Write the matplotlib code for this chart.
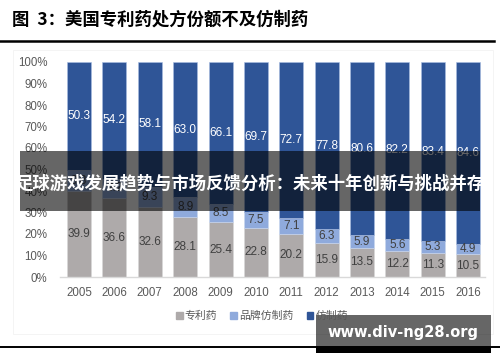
import matplotlib.pyplot as plt
import matplotlib.patches as mpatches
import numpy as np

plt.rcParams['font.family'] = ['Noto Sans CJK SC', 'DejaVu Sans']

# Data
years = ['2005', '2006', '2007', '2008', '2009', '2010',
         '2011', '2012', '2013', '2014', '2015', '2016']
patent = [39.9, 36.6, 32.6, 28.1, 25.4, 22.8, 20.2, 15.9, 13.5, 12.2, 11.3, 10.5]
brand_generic = [9.8, 9.2, 9.3, 8.9, 8.5, 7.5, 7.1, 6.3, 5.9, 5.6, 5.3, 4.9]
generic = [50.3, 54.2, 58.1, 63.0, 66.1, 69.7, 72.7, 77.8, 80.6, 82.2, 83.4, 84.6]
series_names = ['专利药', '品牌仿制药', '仿制药']
yticks = [0, 10, 20, 30, 40, 50, 60, 70, 80, 90, 100]

W, H = 500, 362
GREY = '#AEAAAA'
LIGHT = '#8FAADC'
DARK = '#2F5597'
TXT = '#595959'
NUM_FONT = ['Liberation Sans', 'DejaVu Sans']


def fx(x):
    return x / W


def fy(y):
    return 1 - y / H


fig = plt.figure(figsize=(W / 100, H / 100), dpi=100)

# plot area in pixel coords: x 60..485, y 62..277
ax = fig.add_axes([fx(60), fy(277), fx(485 - 60), (277 - 62) / H])

x = np.arange(len(years))
width = 0.68
ax.bar(x, patent, width, color=GREY, label=series_names[0],
       edgecolor='#d9d9d9', linewidth=0.4)
ax.bar(x, brand_generic, width, bottom=patent, color=LIGHT,
       label=series_names[1], edgecolor='#c9d6ee', linewidth=0.4)
bottom2 = [p + b for p, b in zip(patent, brand_generic)]
ax.bar(x, generic, width, bottom=bottom2, color=DARK,
       label=series_names[2], edgecolor='#a9bde3', linewidth=0.4)

# labels in the middle of each segment
for i in range(len(years)):
    ax.text(x[i], patent[i] / 2, f'{patent[i]:.1f}', ha='center', va='center',
            fontsize=8.5, color='#404040', family=NUM_FONT)
    ax.text(x[i], patent[i] + brand_generic[i] / 2, f'{brand_generic[i]:.1f}',
            ha='center', va='center', fontsize=8.5, color='#404040', family=NUM_FONT)
    ax.text(x[i], bottom2[i] + generic[i] / 2, f'{generic[i]:.1f}',
            ha='center', va='center', fontsize=8.5, color='white', family=NUM_FONT)

ax.set_xlim(-0.54, 11.48)
ax.set_ylim(0, 100)
ax.set_xticks(x)
ax.set_xticklabels(years, family=NUM_FONT)
ax.set_yticks(yticks)
ax.set_yticklabels([f'{v}%' for v in yticks], family=NUM_FONT)
ax.tick_params(axis='both', length=0, labelsize=8.3, labelcolor=TXT)
ax.tick_params(axis='y', pad=9)
ax.tick_params(axis='x', pad=7)
for s in ['top', 'right', 'left']:
    ax.spines[s].set_visible(False)
ax.spines['bottom'].set_color('#d9d9d9')
ax.spines['bottom'].set_linewidth(1.0)

handles = [mpatches.Patch(color=c) for c in (GREY, LIGHT, DARK)]
fig.legend(handles, series_names, loc='center', ncol=3, frameon=False,
           bbox_to_anchor=(fx(262), fy(316)), fontsize=7.8, labelcolor=TXT,
           handlelength=0.6, handleheight=0.6, handletextpad=0.2,
           columnspacing=1.2)

# title and rules
fig.text(fx(12), fy(20), '图  3：美国专利药处方份额不及仿制药', fontsize=12.5,
         fontweight='bold', va='center', ha='left', color='black')
fig.add_artist(plt.Line2D([0, fx(494)], [fy(41), fy(41)], color='black', lw=1.8))
fig.add_artist(plt.Line2D([0, 1], [fy(347), fy(347)], color='black', lw=1.4))

# faint chart frame
fig.add_artist(mpatches.Rectangle((fx(13), fy(334)), fx(480), (334 - 50) / H,
                                  fill=False, edgecolor='#f2f2f2', lw=0.6))

# overlay banner
fig.add_artist(mpatches.Rectangle((fx(20), fy(211)), fx(460), 60 / H,
                                  facecolor='black', alpha=0.6, edgecolor='none'))
fig.text(fx(250), fy(183), '足球游戏发展趋势与市场反馈分析：未来十年创新与挑战并存',
         fontsize=12.5, fontweight='bold', color='white', ha='center', va='center')

# watermark
fig.add_artist(mpatches.Rectangle((fx(316), fy(346)), fx(175), 31 / H,
                                  facecolor='black', alpha=0.6, edgecolor='none'))
fig.add_artist(mpatches.Rectangle((fx(316), fy(353)), fx(175), 7 / H,
                                  facecolor='black', edgecolor='none'))
fig.text(fx(403), fy(333), 'www.div-ng28.org', fontsize=10.5, fontweight='bold',
         color='white', ha='center', va='center', family=['DejaVu Sans'])

fig.savefig('out.png', dpi=100)
